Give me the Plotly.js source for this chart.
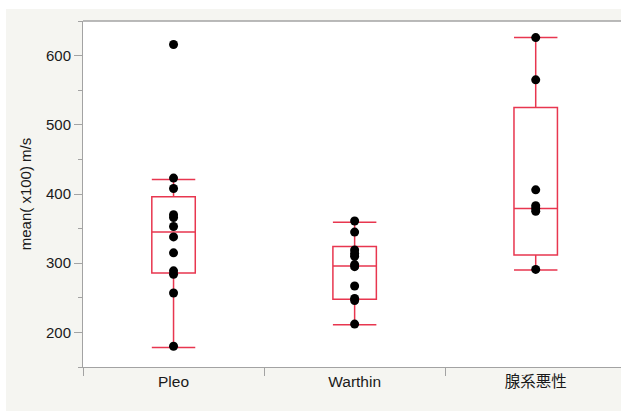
<!DOCTYPE html>
<html>
<head>
<meta charset="utf-8">
<script src="https://cdn.plot.ly/plotly-3.0.1.min.js"></script>
<style>
  html, body { margin: 0; padding: 0; background: #ffffff; overflow: hidden; width: 621px; height: 411px; }
  #chart { position: absolute; left: 6px; top: 9px; width: 615px; height: 402px; }
</style>
</head>
<body>
<div id="chart"></div>
<script>
// ---- data ----
const categories = ["Pleo", "Warthin", "腺系悪性"];

const pleoValues = [616, 423, 408, 370, 366, 353, 338, 315, 289, 284, 257, 180];
const warthinValues = [361, 345, 319, 314, 310, 298, 295, 267, 249, 246, 212];
const malignantValues = [626, 565, 406, 383, 379, 375, 291];

// box statistics (as drawn)
const boxQ1 = [286, 248, 312];
const boxMedian = [345, 296, 379];
const boxQ3 = [396, 324, 525];
const boxLowerFence = [178, 211, 290];
const boxUpperFence = [421, 359, 626];

const yTickValues = [200, 300, 400, 500, 600];

// ---- build traces ----
const groups = [pleoValues, warthinValues, malignantValues];
const pointX = [];
const pointY = [];
groups.forEach((vals, i) => {
  vals.forEach(v => { pointX.push(categories[i]); pointY.push(v); });
});

const boxColor = '#e8364f';
const axisColor = '#a3a3a3';
const fontFam = '"Liberation Sans", Arial, "Noto Sans CJK JP", sans-serif';

const boxTrace = {
  type: 'box',
  x: categories,
  q1: boxQ1,
  median: boxMedian,
  q3: boxQ3,
  lowerfence: boxLowerFence,
  upperfence: boxUpperFence,
  boxpoints: false,
  width: 0.24,
  whiskerwidth: 1,
  line: { color: boxColor, width: 1.5 },
  fillcolor: 'rgba(0,0,0,0)',
  hoverinfo: 'skip',
  showlegend: false
};

const pointTrace = {
  type: 'scatter',
  mode: 'markers',
  x: pointX,
  y: pointY,
  marker: { color: '#000000', size: 9 },
  hoverinfo: 'skip',
  showlegend: false
};

const layout = {
  width: 615,
  height: 402,
  margin: { l: 77, r: 0, t: 12, b: 44 },
  paper_bgcolor: '#f5f5f1',
  plot_bgcolor: '#ffffff',
  font: { family: fontFam, size: 15, color: '#1a1a1a' },
  showlegend: false,
  xaxis: {
    type: 'category',
    categoryarray: categories,
    range: [-0.5, 2.471],
    showline: true,
    linecolor: axisColor,
    linewidth: 1,
    ticks: 'outside',
    tickson: 'boundaries',
    ticklen: 8,
    tickcolor: axisColor,
    showgrid: false,
    zeroline: false,
    tickfont: { family: fontFam, size: 15.5, color: '#1a1a1a' },
    fixedrange: true
  },
  yaxis: {
    range: [150, 650],
    tickvals: yTickValues,
    showline: true,
    linecolor: axisColor,
    linewidth: 1,
    ticks: 'outside',
    ticklen: 8,
    tickcolor: axisColor,
    minor: { dtick: 50, tick0: 0, ticks: 'outside', ticklen: 4, tickcolor: axisColor, showgrid: false },
    showgrid: false,
    zeroline: false,
    tickfont: { family: fontFam, size: 15, color: '#1a1a1a' },
    title: { text: 'mean( x100) m/s', font: { family: fontFam, size: 15, color: '#1a1a1a' }, standoff: 10 },
    fixedrange: true
  },
  shapes: [
    { type: 'line', xref: 'paper', yref: 'paper', x0: 0, x1: 1, y0: 1, y1: 1,
      line: { color: axisColor, width: 1.5 } }
  ]
};

Plotly.newPlot('chart', [boxTrace, pointTrace], layout, { staticPlot: true, displayModeBar: false });
</script>
</body>
</html>
